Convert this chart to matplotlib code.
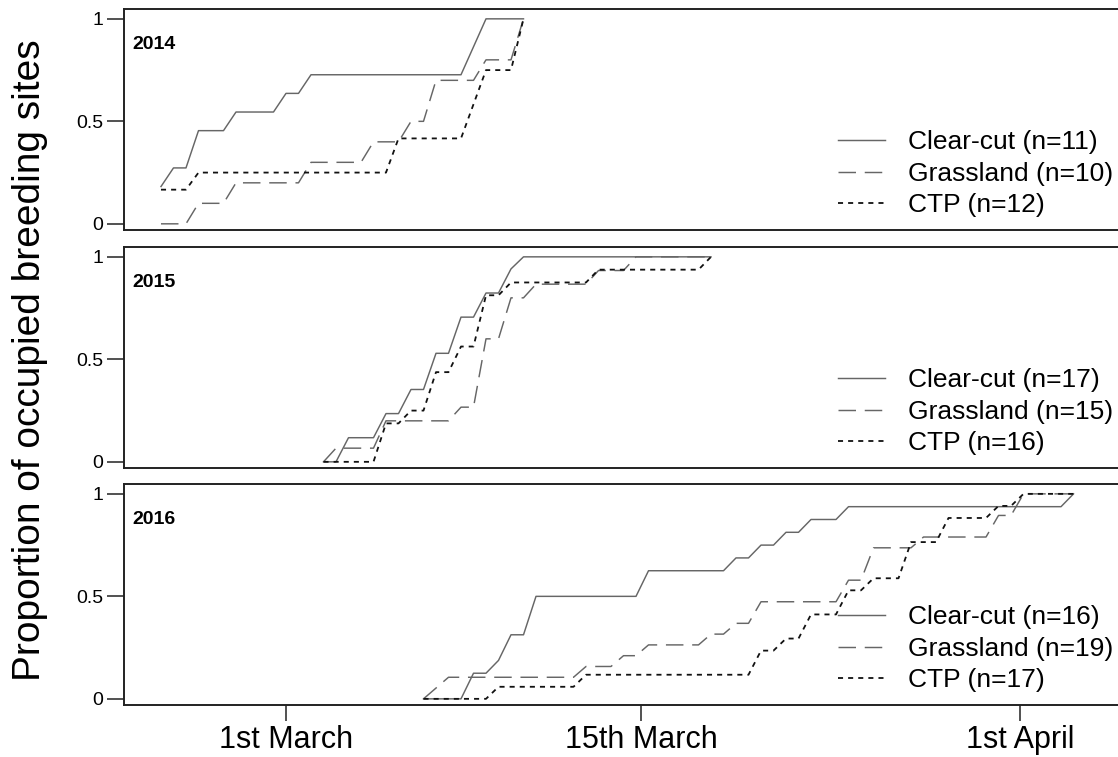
import matplotlib
matplotlib.use('Agg')
import matplotlib.pyplot as plt

# ---------------- data (days after 1st March, number of occupied sites) -------------
years = ['2014', '2015', '2016']
n_clearcut = [11, 17, 16]
n_grassland = [10, 15, 19]
n_ctp = [12, 16, 17]

cc_days_2014 = [-5, -4.5, -4, -3.5, -2.5, -2, -0.5, 0, 0.5, 1, 7, 8, 9.5]
cc_count_2014 = [2, 3, 3, 5, 5, 6, 6, 7, 7, 8, 8, 11, 11]
gr_days_2014 = [-5, -4, -3.5, -2.5, -2, 0.5, 1, 3, 3.5, 4.5, 5, 5.5, 6, 7.5, 8, 9, 9.5]
gr_count_2014 = [0, 0, 1, 1, 2, 2, 3, 3, 4, 4, 5, 5, 7, 7, 8, 8, 10]
ctp_days_2014 = [-5, -4, -3.5, 4, 4.5, 7, 8, 9, 9.5]
ctp_count_2014 = [2, 2, 3, 3, 5, 5, 9, 9, 12]

cc_days_2015 = [1.5, 2, 2.5, 3.5, 4, 4.5, 5, 5.5, 6, 6.5, 7, 7.5, 8, 8.5, 9, 9.5, 17]
cc_count_2015 = [0, 0, 2, 2, 4, 4, 6, 6, 9, 9, 12, 12, 14, 14, 16, 17, 17]
gr_days_2015 = [1.5, 2, 3.5, 4, 6.5, 7, 7.5, 8, 8.5, 9, 9.5, 10, 12, 12.5, 13.5, 14, 17]
gr_count_2015 = [0, 1, 1, 3, 3, 4, 4, 9, 9, 12, 12, 13, 13, 14, 14, 15, 15]
ctp_days_2015 = [1.5, 3.5, 4, 4.5, 5, 5.5, 6, 6.5, 7, 7.5, 8, 8.5, 9, 12, 12.5, 16.5, 17]
ctp_count_2015 = [0, 0, 3, 3, 4, 4, 7, 7, 9, 9, 13, 13, 14, 14, 15, 15, 16]

cc_days_2016 = [5.5, 7, 7.5, 8, 8.5, 9, 9.5, 10, 14, 14.5, 17.5, 18, 18.5, 19, 19.5,
                20, 20.5, 21, 22, 22.5, 31, 31.5]
cc_count_2016 = [0, 0, 2, 2, 3, 5, 5, 8, 8, 10, 10, 11, 11, 12, 12, 13, 13, 14, 14, 15, 15, 16]
gr_days_2016 = [5.5, 6.5, 11.5, 12, 13, 13.5, 14, 14.5, 16.5, 17, 17.5, 18, 18.5, 19, 22,
                22.5, 23, 23.5, 25, 25.5, 28, 28.5, 29, 29.5, 31.5]
gr_count_2016 = [0, 2, 2, 3, 3, 4, 4, 5, 5, 6, 6, 7, 7, 9, 9, 11, 11, 14, 14, 15, 15,
                 17, 17, 19, 19]
ctp_days_2016 = [5.5, 8, 8.5, 11.5, 12, 18.5, 19, 19.5, 20, 20.5, 21, 22, 22.5, 23, 23.5,
                 24.5, 25, 26, 26.5, 28, 28.5, 29, 29.5, 31.5]
ctp_count_2016 = [0, 0, 1, 1, 2, 2, 4, 4, 5, 5, 7, 7, 9, 9, 10, 10, 13, 13, 15, 15, 16,
                  16, 17, 17]

x_tick_pos = [0, 14.2, 29.35]
x_tick_labels = ['1st March', '15th March', '1st April']
y_ticks = [0, 0.5, 1]
y_tick_labels = ['0', '0.5', '1']

# ---------------- plotting -----------------
plt.rcParams['font.family'] = ['Liberation Sans', 'DejaVu Sans']

series = {
    '2014': [(cc_days_2014, cc_count_2014), (gr_days_2014, gr_count_2014), (ctp_days_2014, ctp_count_2014)],
    '2015': [(cc_days_2015, cc_count_2015), (gr_days_2015, gr_count_2015), (ctp_days_2015, ctp_count_2015)],
    '2016': [(cc_days_2016, cc_count_2016), (gr_days_2016, gr_count_2016), (ctp_days_2016, ctp_count_2016)],
}

fig = plt.figure(figsize=(11.18, 7.57), dpi=100)
left, width, height = 0.1109, 0.8927, 0.2919
bottoms = [0.6962, 0.3818, 0.0687]

styles = [
    dict(color='#666666', lw=1.05, ls='-'),
    dict(color='#666666', lw=1.05, ls=(0, (12, 6))),
    dict(color='#111111', lw=1.3, ls=(0, (2.8, 2.8))),
]
names = ['Clear-cut', 'Grassland', 'CTP']

for i, yr in enumerate(years):
    ax = fig.add_axes([left, bottoms[i], width, height])
    ns = [n_clearcut[i], n_grassland[i], n_ctp[i]]
    handles = []
    for (days, counts), n, st, nm in zip(series[yr], ns, styles, names):
        props = [c / n for c in counts]
        h, = ax.plot(days, props, label=f'{nm} (n={n})', **st)
        handles.append(h)
    ax.set_xlim(-6.48, 33.44)
    ax.set_ylim(-0.03, 1.048)
    ax.set_yticks(y_ticks)
    ax.set_yticklabels(y_tick_labels)
    ax.tick_params(axis='y', length=12, width=1.1, pad=3, labelsize=14, color='#222222')
    if i == 2:
        ax.set_xticks(x_tick_pos)
        ax.set_xticklabels(x_tick_labels)
        ax.tick_params(axis='x', length=11.5, width=1.1, pad=3, labelsize=22, color='#222222')
    else:
        ax.set_xticks([])
    for sp in ax.spines.values():
        sp.set_linewidth(1.4)
        sp.set_color('#222222')
    ax.text(0.008, 1 - 35 / 221, yr, transform=ax.transAxes, fontsize=14,
            fontweight='bold', va='center', ha='left')
    ax.legend(handles=handles, loc='lower left', bbox_to_anchor=(0.7154, 0.058),
              frameon=False, fontsize=19, handlelength=1.78, handletextpad=0.87,
              labelspacing=0.28, borderpad=0, borderaxespad=0)

fig.text(30 / 1118, 1 - 360 / 757, 'Proportion of occupied breeding sites',
         rotation=90, fontsize=28, va='center', ha='center')

fig.savefig('out.png', dpi=100)
